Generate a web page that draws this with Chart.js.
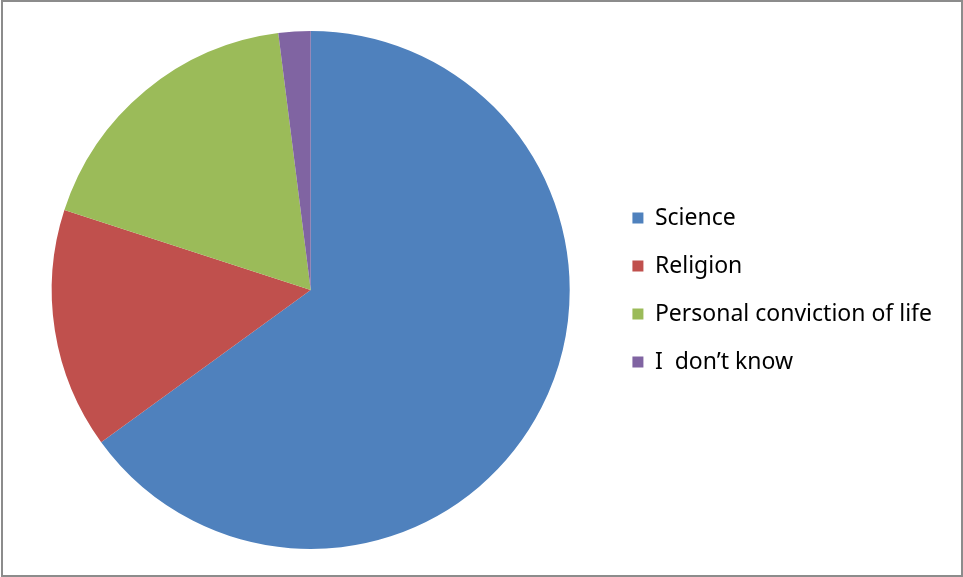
<html>
<head>
    <title>Worldview sources</title>
    <script src="https://cdn.jsdelivr.net/npm/chart.js"></script>
    <style>
        body { margin: 0; background: #fff; }
        #wrap { position: relative; width: 963px; height: 577px; }
        #frame { position: absolute; left: 1px; top: 0; width: 958px; height: 573px; border: 2px solid #8c8c8c; pointer-events: none; }
    </style>
</head>
<body>
    <div id="wrap">
        <canvas id="pieChart" width="963" height="577"></canvas>
        <div id="frame"></div>
    </div>
    <script>
        const categories = ['Science', 'Religion', 'Personal conviction of life', 'I  don\u2019t know'];
        const shares = [65, 15, 18, 2];
        const colors = ['#4F81BD', '#C0504D', '#9BBB59', '#8064A2'];

        const ctx = document.getElementById('pieChart').getContext('2d');
        new Chart(ctx, {
            type: 'pie',
            data: {
                labels: categories,
                datasets: [{
                    data: shares,
                    backgroundColor: colors,
                    borderWidth: 0
                }]
            },
            options: {
                responsive: false,
                animation: false,
                layout: { padding: { left: 14, right: 21, top: 31, bottom: 28 } },
                plugins: {
                    tooltip: { enabled: false },
                    legend: {
                        position: 'right',
                        labels: {
                            boxWidth: 11,
                            boxHeight: 11,
                            padding: 25,
                            color: '#000',
                            font: { family: 'Noto Sans', size: 23 }
                        }
                    }
                }
            }
        });
    </script>
</body>
</html>
